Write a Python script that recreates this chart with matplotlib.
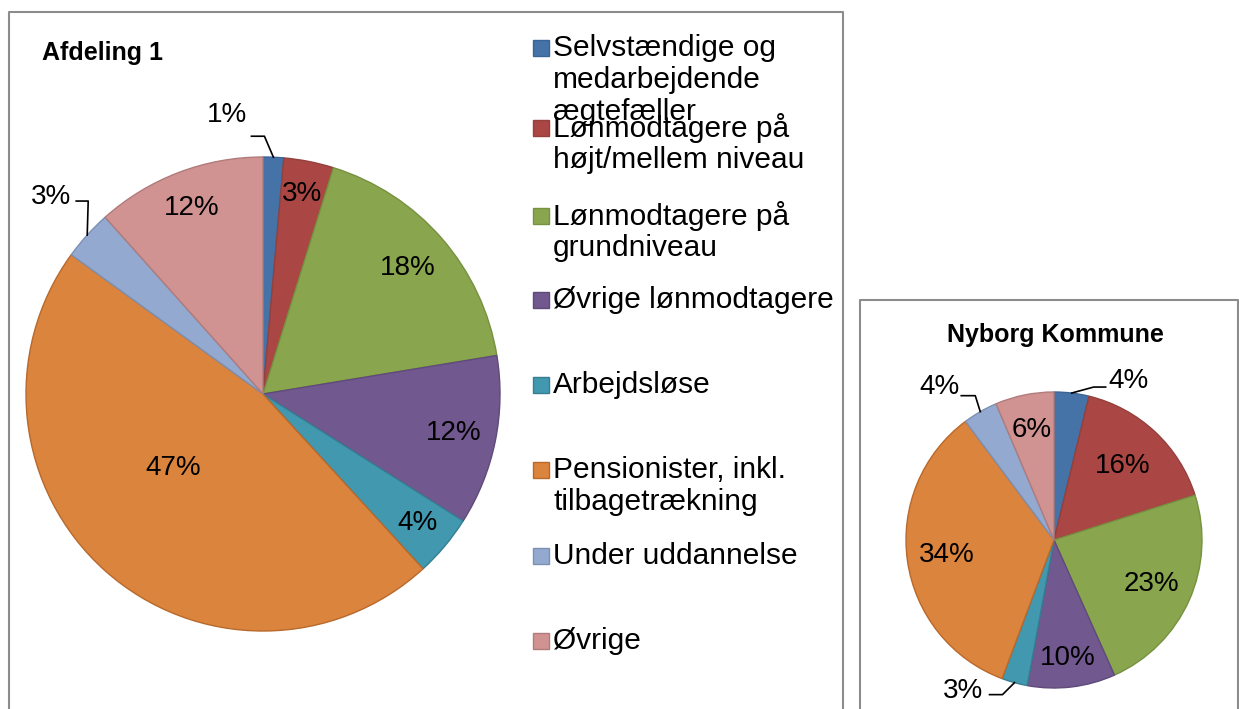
import numpy as np
import matplotlib.pyplot as plt
from matplotlib.patches import Rectangle

plt.rcParams['font.family'] = ['Liberation Sans', 'DejaVu Sans']

# Data
categories = ["Selvstændige og\nmedarbejdende\nægtefæller",
              "Lønmodtagere på\nhøjt/mellem niveau",
              "Lønmodtagere på\ngrundniveau",
              "Øvrige lønmodtagere",
              "Arbejdsløse",
              "Pensionister, inkl.\ntilbagetrækning",
              "Under uddannelse",
              "Øvrige"]
afdeling_1 = [1.4, 3.4, 17.6, 11.6, 4.2, 46.8, 3.4, 11.6]
nyborg = [3.8, 16.3, 23.2, 9.6, 2.8, 34.1, 3.8, 6.4]

colors = ['#4572A7', '#AA4643', '#89A54E', '#71588F',
          '#4198AF', '#DB843D', '#93A9CF', '#D19392']
edges = ['#3B6496', '#94403D', '#76913F', '#5F4A7A',
         '#367F93', '#B8692C', '#7C90B3', '#B07B7A']

W, H = 1239, 709
fig = plt.figure(figsize=(W / 100, H / 100), dpi=100)
ax = fig.add_axes([0, 0, 1, 1])


def Y(y):
    # pixel rows (top-down) to data y
    return H - y


def draw_pie(values, cx, cy, r, inside, outside, fs):
    wedges, _ = ax.pie(values, colors=colors, startangle=90, counterclock=False,
                       center=(cx, Y(cy)), radius=r,
                       wedgeprops=dict(linewidth=1.0))
    for w, ec in zip(wedges, edges):
        w.set_edgecolor(ec)
    for i, w in enumerate(wedges):
        mid = (w.theta1 + w.theta2) / 2
        txt = f"{values[i]:.0f}%"
        if i in inside:
            d, dt = inside[i]
            a = np.deg2rad(mid + dt)
            ax.text(cx + d * r * np.cos(a), Y(cy) + d * r * np.sin(a), txt,
                    ha='center', va='center', fontsize=fs)
        else:
            a = np.deg2rad(mid)
            (ex, ey), (hx, hy), (tx, ty) = outside[i]
            px, py = cx + r * np.cos(a), Y(cy) + r * np.sin(a)
            ax.plot([px, px + ex, px + ex + hx], [py, py + ey, py + ey + hy],
                    color='black', lw=1.2)
            ax.text(px + tx, py + ty, txt, ha='center', va='center', fontsize=fs)


# Left chart: Afdeling 1
draw_pie(afdeling_1, 263, 394, 237,
         inside={1: (0.86, 0), 2: (0.81, 0), 3: (0.82, 0), 4: (0.85, 0),
                 5: (0.49, -8.8), 7: (0.84, 0)},
         outside={0: ((-9, 21), (-13, 0), (-46, 42)),
                  6: ((1, 34), (-12, 0), (-36, 38))},
         fs=20)
# Right chart: Nyborg Kommune
draw_pie(nyborg, 1054, 540, 148,
         inside={1: (0.68, 0), 2: (0.72, 0), 3: (0.80, 0),
                 5: (0.73, 0), 7: (0.76, 0)},
         outside={0: ((22, 6), (12, 0), (57, 12)),
                  4: ((-12, -12), (-13, 0), (-51, -8)),
                  6: ((-5, 16), (-14, 0), (-41, 25))},
         fs=20)

ax.set_xlim(0, W)
ax.set_ylim(0, H)
ax.axis('off')

# Titles
ax.text(103, Y(53), "Afdeling 1", ha='center', va='center',
        fontsize=18, fontweight='bold')
ax.text(1055, Y(335), "Nyborg Kommune", ha='center', va='center',
        fontsize=18, fontweight='bold')

# Legend
entry_y = [48, 128, 216, 300, 385, 470, 556, 641]
for lab, c, ec, ey in zip(categories, colors, edges, entry_y):
    ax.add_patch(Rectangle((533, Y(ey) - 8), 16, 16, facecolor=c,
                           edgecolor=ec, lw=1.0))
    for k, line in enumerate(lab.split("\n")):
        ax.text(553, Y(ey + 32 * k), line, ha='left', va='center', fontsize=21.5)

# Chart borders
bc = '#8C8C8C'
ax.plot([9, 9, 843, 843], [-5, Y(11.5), Y(11.5), -5], color=bc, lw=1.5,
        clip_on=False)
ax.plot([860, 860, 1237.5, 1237.5], [-5, Y(300), Y(300), -5], color=bc,
        lw=1.5, clip_on=False)

fig.savefig('out.png', dpi=100)
